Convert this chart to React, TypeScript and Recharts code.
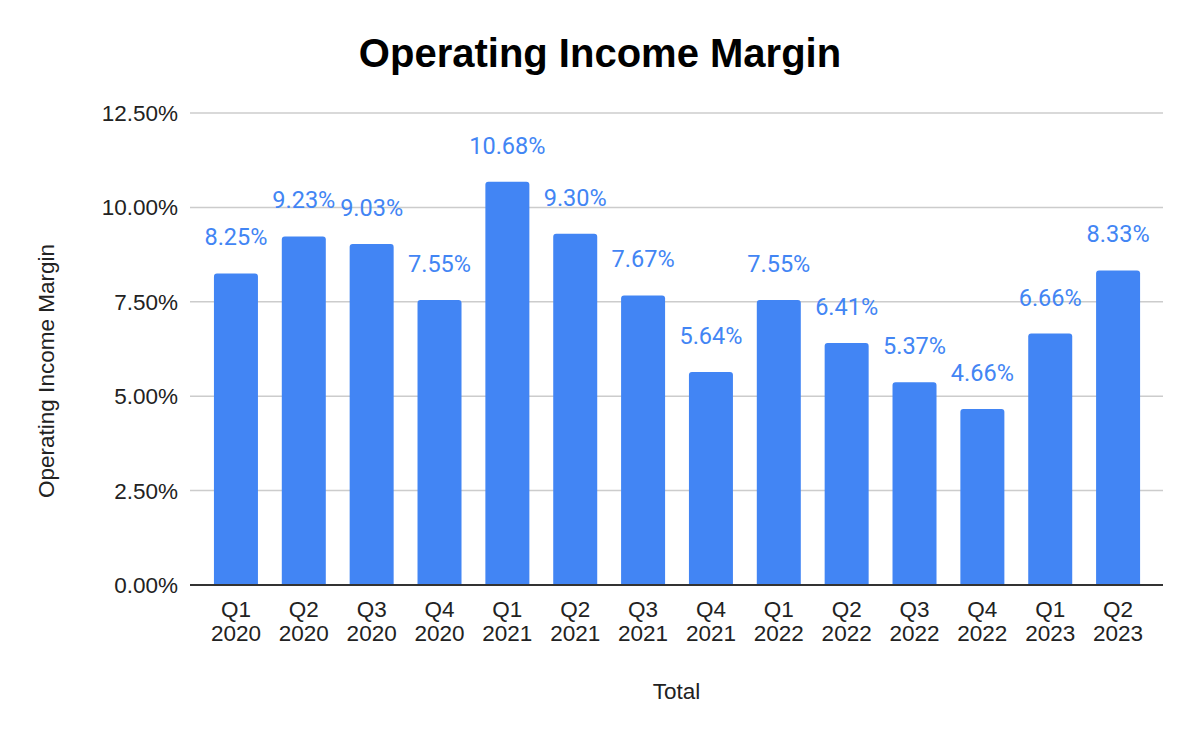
import { BarChart, Bar, XAxis, YAxis, CartesianGrid, LabelList } from "recharts";

const quarters = ["Q1", "Q2", "Q3", "Q4", "Q1", "Q2", "Q3", "Q4", "Q1", "Q2", "Q3", "Q4", "Q1", "Q2"];
const years = ["2020", "2020", "2020", "2020", "2021", "2021", "2021", "2021", "2022", "2022", "2022", "2022", "2023", "2023"];
const margins = [8.25, 9.23, 9.03, 7.55, 10.68, 9.3, 7.67, 5.64, 7.55, 6.41, 5.37, 4.66, 6.66, 8.33];
const yTicks = [0, 2.5, 5, 7.5, 10, 12.5];

const data = margins.map((v, i) => ({ name: `${quarters[i]} ${years[i]}`, margin: v }));

const axisFont = "'Liberation Sans', Arial, sans-serif";

function QuarterTick(props: any) {
  const { x, y, payload } = props;
  const [q, yr] = String(payload.value).split(" ");
  return (
    <g transform={`translate(${x},${y})`}>
      <text textAnchor="middle" fontFamily={axisFont} fontSize={22.5} fill="#222">
        <tspan x={0} dy={24}>{q}</tspan>
        <tspan x={0} dy={24}>{yr}</tspan>
      </text>
    </g>
  );
}

export default function App() {
  return (
    <div style={{ position: "absolute", left: 0, top: 0, width: 1200, height: 742, background: "#fff" }}>
      <div
        style={{
          position: "absolute",
          top: 31,
          left: 0,
          width: 1200,
          textAlign: "center",
          fontFamily: axisFont,
          fontWeight: "bold",
          fontSize: 40,
          color: "#000",
        }}
      >
        Operating Income Margin
      </div>
      <BarChart width={1200} height={742} data={data} margin={{ top: 113, right: 37, bottom: 0, left: 0 }} barCategoryGap="17.6%">
        <CartesianGrid vertical={false} stroke="#ccc" strokeWidth={1.5} />
        <XAxis
          dataKey="name"
          interval={0}
          tick={<QuarterTick />}
          tickLine={false}
          axisLine={{ stroke: "#333", strokeWidth: 2 }}
          height={157}
          padding={{ left: 12, right: 11 }}
          label={{ value: "Total", position: "insideTop", dy: 93, fontFamily: axisFont, fontSize: 22.5, fill: "#222" }}
        />
        <YAxis
          width={190}
          domain={[0, 12.5]}
          ticks={yTicks}
          tickFormatter={(v: number) => `${v.toFixed(2)}%`}
          tick={{ fontFamily: axisFont, fontSize: 22.5, fill: "#222" }}
          tickLine={false}
          axisLine={false}
          tickMargin={6}
          label={{
            value: "Operating Income Margin",
            angle: -90,
            position: "insideLeft",
            dx: 41,
            dy: 22,
            style: { textAnchor: "middle" },
            fontFamily: axisFont,
            fontSize: 22.5,
            fill: "#222",
          }}
        />
        <Bar dataKey="margin" fill="#4285f4" radius={[3, 3, 0, 0]} isAnimationActive={false}>
          <LabelList
            dataKey="margin"
            position="top"
            offset={28}
            formatter={(v: any) => `${Number(v).toFixed(2)}%`}
            fontFamily="Roboto, sans-serif"
            fontSize={23.5}
            fill="#4285f4"
          />
        </Bar>
      </BarChart>
    </div>
  );
}
